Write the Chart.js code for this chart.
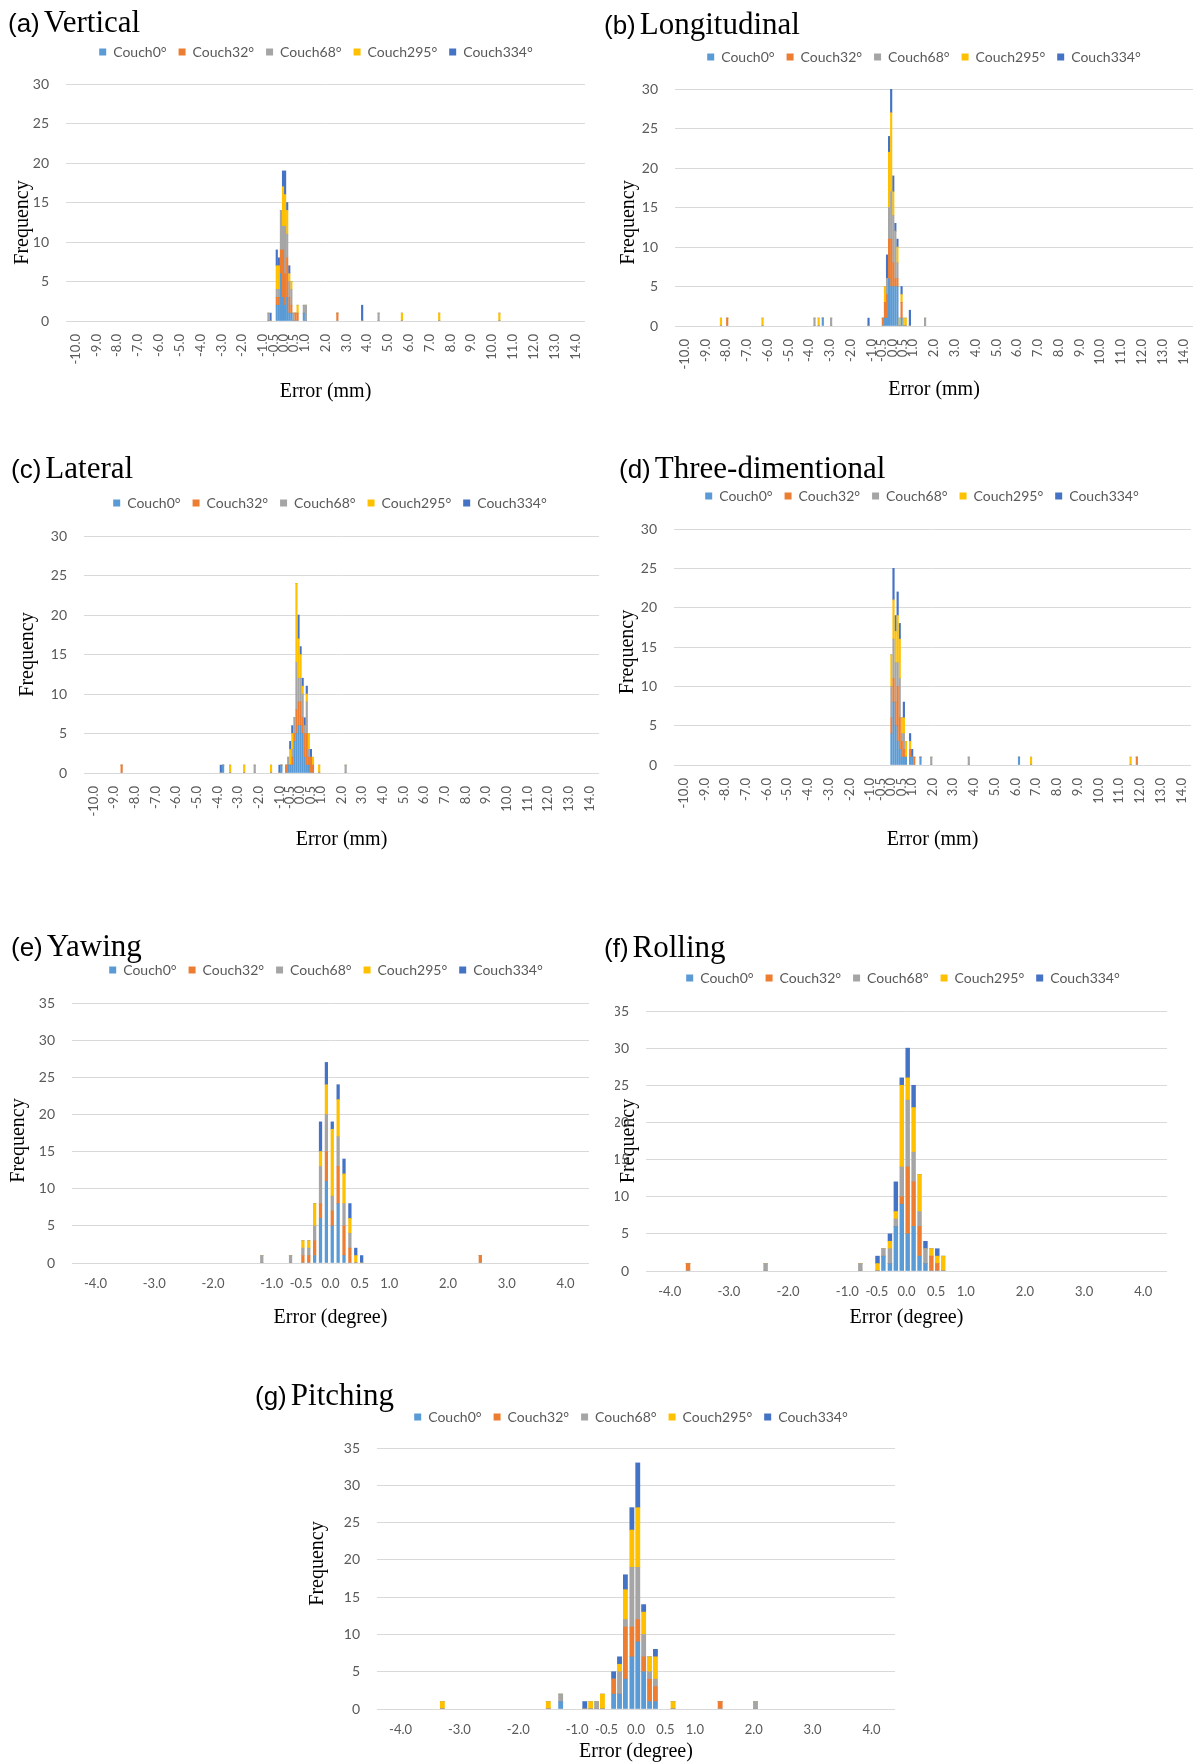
<!DOCTYPE html>
<html>
<head>
<meta charset="utf-8">
<script src="https://cdn.jsdelivr.net/npm/chart.js@4.4.0/dist/chart.umd.min.js"></script>
<style>
  html, body { margin: 0; padding: 0; background: #fff; }
  body { width: 1204px; height: 1763px; position: relative; overflow: hidden; }
  canvas { position: absolute; }
  .ptitle { position: absolute; white-space: nowrap; color: #000; z-index: 2; line-height: 1; }
  .ptitle .tag { font: 26px "Liberation Sans", Arial, sans-serif; }
  .ptitle .nm { font: 31px "Liberation Serif", "Times New Roman", serif; }
</style>
</head>
<body>
<script>
// series and tick labels
var seriesNames = ['Couch0°', 'Couch32°', 'Couch68°', 'Couch295°', 'Couch334°'];
var seriesColors = ['#5B9BD5', '#ED7D31', '#A5A5A5', '#FFC000', '#4472C4'];
var mmTicks = [-10, -9, -8, -7, -6, -5, -4, -3, -2, -1, -0.5, 0, 0.5, 1, 2, 3, 4, 5, 6, 7, 8, 9, 10, 11, 12, 13, 14];
var degTicks = [-4, -3, -2, -1, -0.5, 0, 0.5, 1, 2, 3, 4];

// (a) Vertical
var vertBins     = [-0.74, -0.64, -0.34, -0.24, -0.14, -0.04, 0.06, 0.16, 0.26, 0.36, 0.46, 0.56, 0.66, 0.96, 1.06, 2.57, 3.76, 4.55, 5.67, 7.46, 10.35];
var vertCouch0   = [0, 0, 2, 2, 6, 3, 2, 3, 1, 1, 0, 0, 0, 1, 0, 0, 0, 0, 0, 0, 0];
var vertCouch32  = [0, 0, 1, 1, 3, 6, 4, 5, 2, 1, 0, 1, 1, 0, 0, 1, 0, 0, 0, 0, 0];
var vertCouch68  = [1, 0, 1, 1, 5, 3, 6, 3, 2, 2, 1, 0, 0, 1, 2, 0, 0, 1, 0, 0, 0];
var vertCouch295 = [0, 0, 3, 3, 0, 5, 4, 3, 1, 1, 0, 0, 1, 0, 0, 0, 0, 0, 1, 1, 1];
var vertCouch334 = [0, 1, 2, 1, 0, 2, 3, 1, 1, 0, 0, 0, 0, 0, 0, 0, 2, 0, 0, 0, 0];

// (b) Longitudinal
var longBins     = [-8.25, -7.95, -6.25, -3.75, -3.55, -3.35, -2.95, -1.15, -0.46, -0.36, -0.26, -0.16, -0.06, 0.04, 0.14, 0.24, 0.34, 0.44, 0.54, 0.64, 0.84, 1.57];
var longCouch0   = [0, 0, 0, 0, 0, 1, 0, 0, 0, 1, 1, 6, 5, 5, 5, 5, 0, 1, 0, 0, 0, 0];
var longCouch32  = [0, 1, 0, 0, 0, 0, 0, 0, 1, 2, 3, 5, 6, 3, 1, 1, 0, 2, 0, 0, 0, 0];
var longCouch68  = [0, 0, 0, 1, 0, 0, 1, 0, 0, 0, 2, 4, 6, 6, 6, 2, 0, 0, 0, 0, 0, 1];
var longCouch295 = [1, 0, 1, 0, 1, 0, 0, 0, 0, 2, 0, 7, 10, 3, 0, 2, 1, 1, 1, 1, 0, 0];
var longCouch334 = [0, 0, 0, 0, 0, 0, 0, 1, 0, 0, 3, 2, 3, 2, 1, 1, 0, 1, 0, 0, 2, 0];

// (c) Lateral
var latBins      = [-8.64, -3.84, -3.73, -3.39, -2.71, -2.2, -1.41, -1.0, -0.91, -0.68, -0.58, -0.48, -0.38, -0.28, -0.18, -0.08, 0.02, 0.12, 0.22, 0.32, 0.42, 0.52, 0.62, 0.92, 2.2];
var latCouch0    = [0, 0, 1, 0, 0, 0, 0, 0, 1, 0, 1, 1, 1, 4, 5, 6, 6, 5, 2, 1, 1, 0, 0, 0, 0];
var latCouch32   = [1, 0, 0, 0, 0, 0, 0, 0, 0, 1, 0, 0, 1, 1, 3, 3, 3, 2, 3, 4, 1, 2, 1, 0, 0];
var latCouch68   = [0, 0, 0, 0, 0, 1, 0, 0, 0, 0, 1, 0, 1, 2, 6, 3, 3, 3, 1, 4, 1, 0, 0, 0, 1];
var latCouch295  = [0, 0, 0, 1, 1, 0, 1, 0, 0, 0, 0, 2, 2, 0, 10, 5, 3, 1, 0, 1, 2, 0, 1, 1, 0];
var latCouch334  = [0, 1, 0, 0, 0, 0, 0, 1, 0, 0, 0, 1, 1, 0, 0, 3, 1, 1, 1, 1, 0, 1, 0, 0, 0];

// (d) Three-dimentional
var threeBins     = [0.02, 0.12, 0.22, 0.32, 0.42, 0.52, 0.62, 0.72, 0.92, 1.02, 1.12, 1.42, 1.94, 3.75, 6.17, 6.75, 11.55, 11.85];
var threeCouch0   = [4, 8, 5, 3, 2, 1, 1, 1, 1, 1, 0, 1, 0, 0, 1, 0, 0, 0];
var threeCouch32  = [2, 3, 3, 7, 4, 2, 1, 0, 1, 0, 1, 0, 0, 0, 0, 0, 0, 1];
var threeCouch68  = [4, 5, 5, 3, 5, 1, 2, 0, 0, 0, 0, 0, 1, 1, 0, 0, 0, 0];
var threeCouch295 = [4, 5, 4, 6, 5, 2, 2, 2, 1, 0, 0, 0, 0, 0, 0, 1, 1, 0];
var threeCouch334 = [0, 4, 2, 3, 2, 0, 2, 0, 1, 1, 0, 0, 0, 0, 0, 0, 0, 0];

// (e) Yawing
var yawBins     = [-1.17, -0.68, -0.47, -0.37, -0.27, -0.17, -0.07, 0.03, 0.13, 0.23, 0.33, 0.43, 0.53, 2.55];
var yawCouch0   = [0, 0, 0, 0, 1, 6, 11, 5, 8, 1, 0, 0, 0, 0];
var yawCouch32  = [0, 0, 1, 1, 2, 2, 4, 2, 5, 4, 2, 0, 0, 1];
var yawCouch68  = [1, 1, 1, 1, 2, 5, 5, 2, 4, 3, 2, 0, 0, 0];
var yawCouch295 = [0, 0, 1, 1, 3, 2, 4, 9, 5, 4, 2, 1, 0, 0];
var yawCouch334 = [0, 0, 0, 0, 0, 4, 3, 1, 2, 2, 2, 1, 1, 0];

// (f) Rolling
var rollBins     = [-3.69, -2.38, -0.78, -0.49, -0.39, -0.28, -0.18, -0.08, 0.02, 0.12, 0.22, 0.32, 0.42, 0.52, 0.62];
var rollCouch0   = [0, 0, 0, 0, 2, 1, 6, 9, 5, 6, 2, 1, 0, 0, 0];
var rollCouch32  = [1, 0, 0, 0, 0, 0, 0, 1, 9, 6, 4, 0, 2, 1, 0];
var rollCouch68  = [0, 1, 1, 0, 1, 2, 1, 4, 9, 4, 2, 2, 0, 0, 0];
var rollCouch295 = [0, 0, 0, 1, 0, 1, 1, 11, 3, 6, 5, 0, 1, 1, 2];
var rollCouch334 = [0, 0, 0, 1, 0, 1, 4, 1, 4, 3, 0, 1, 0, 1, 0];

// (g) Pitching
var pitchBins     = [-3.29, -1.49, -1.28, -0.87, -0.77, -0.67, -0.57, -0.38, -0.28, -0.18, -0.07, 0.03, 0.13, 0.23, 0.33, 0.63, 1.43, 2.03];
var pitchCouch0   = [0, 0, 1, 0, 0, 0, 0, 2, 2, 4, 7, 9, 5, 1, 1, 0, 0, 0];
var pitchCouch32  = [0, 0, 0, 0, 0, 0, 0, 2, 0, 7, 4, 3, 2, 3, 2, 0, 1, 0];
var pitchCouch68  = [0, 0, 1, 0, 0, 1, 0, 0, 3, 1, 8, 7, 3, 1, 1, 0, 0, 1];
var pitchCouch295 = [1, 1, 0, 0, 1, 0, 2, 0, 1, 4, 5, 8, 3, 2, 3, 1, 0, 0];
var pitchCouch334 = [0, 0, 0, 1, 0, 0, 0, 1, 1, 2, 3, 6, 1, 0, 1, 0, 0, 0];

// panel layout (page pixels): plot box, axis title and legend anchors
var panels = [
  { tag: '(a)', name: 'Vertical', deg: false, bins: vertBins,
    counts: [vertCouch0, vertCouch32, vertCouch68, vertCouch295, vertCouch334],
    box: { l: 66, r: 585, t: 84, b: 321, freqX: 23, freqShift: 19, legY: 52, legX: 316, errY: 392, tx: 8, ty: 21 }, bar: 1.5 },
  { tag: '(b)', name: 'Longitudinal', deg: false, bins: longBins,
    counts: [longCouch0, longCouch32, longCouch68, longCouch295, longCouch334],
    box: { l: 675, r: 1193, t: 89, b: 326, freqX: 629, freqShift: 15, legY: 57, legX: 924, errY: 390, tx: 604, ty: 23 }, bar: 1.5 },
  { tag: '(c)', name: 'Lateral', deg: false, bins: latBins,
    counts: [latCouch0, latCouch32, latCouch68, latCouch295, latCouch334],
    box: { l: 84, r: 599, t: 536, b: 773, freqX: 28, freqShift: 0, legY: 503, legX: 330, errY: 840, tx: 11, ty: 467 }, bar: 1.5 },
  { tag: '(d)', name: 'Three-dimentional', deg: false, bins: threeBins,
    counts: [threeCouch0, threeCouch32, threeCouch68, threeCouch295, threeCouch334],
    box: { l: 674, r: 1191, t: 529, b: 765, freqX: 628, freqShift: 6, legY: 496, legX: 922, errY: 840, tx: 619, ty: 467 }, bar: 1.5 },
  { tag: '(e)', name: 'Yawing', deg: true, bins: yawBins,
    counts: [yawCouch0, yawCouch32, yawCouch68, yawCouch295, yawCouch334],
    box: { l: 72, r: 589, t: 1003, b: 1263, freqX: 19, freqShift: 7, legY: 970, legX: 326, errY: 1318, tx: 11, ty: 945 }, bar: 2.6 },
  { tag: '(f)', name: 'Rolling', deg: true, bins: rollBins,
    counts: [rollCouch0, rollCouch32, rollCouch68, rollCouch295, rollCouch334],
    box: { l: 646, r: 1167, t: 1011, b: 1271, freqX: 629, freqShift: 0, legY: 978, legX: 903, errY: 1318, tx: 604, ty: 946 }, bar: 3.8 },
  { tag: '(g)', name: 'Pitching', deg: true, bins: pitchBins,
    counts: [pitchCouch0, pitchCouch32, pitchCouch68, pitchCouch295, pitchCouch334],
    box: { l: 377, r: 895, t: 1448, b: 1709, freqX: 318, freqShift: -15, legY: 1417, legX: 631, errY: 1752, tx: 255, ty: 1394 }, bar: 4.2 }
];

var GRAY = '#595959';
var SANS = 'Lato, "Liberation Sans", sans-serif';
var SERIF = '"Liberation Serif", "Times New Roman", serif';
var LEG_PAD = 12, LEG_FONT = 14, RIGHT_PAD = 22;

// move the legend so its centre sits where the reference has it
var legendShift = {
  id: 'legendShift',
  afterLayout: function(chart, args, opts) {
    var lg = chart.legend;
    if (!lg || opts.centerX == null) return;
    var dx = opts.centerX - (lg.left + lg.right) / 2;
    lg.left += dx;
    lg.right += dx;
  }
};

// the rotated y title is centred on the plot; pad with spaces to nudge it along the axis
function freqLabel(shift) {
  var n = Math.round(Math.abs(shift) * 2 / 5);
  var pad = new Array(n + 1).join(' ');
  return shift >= 0 ? 'Frequency' + pad : pad + 'Frequency';
}

panels.forEach(function(p) {
  var b = p.box;

  var t = document.createElement('div');
  t.className = 'ptitle';
  t.style.left = b.tx + 'px';
  t.style.top = (b.ty - 17) + 'px';
  t.innerHTML = '<span class="tag">' + p.tag + '</span> <span class="nm">' + p.name + '</span>';
  document.body.appendChild(t);

  var cLeft = b.freqX - 14;
  var cTop = Math.round(b.legY - LEG_PAD - LEG_FONT / 2);
  var yW = b.l - cLeft;
  var xH = b.errY - b.b + 12;
  var spacer = (b.t - cTop) - (LEG_PAD + LEG_FONT + 10);
  var W = b.r - cLeft + RIGHT_PAD;
  var H = b.b - cTop + xH;

  var cv = document.createElement('canvas');
  cv.width = W; cv.height = H;
  cv.style.left = cLeft + 'px';
  cv.style.top = cTop + 'px';
  cv.style.width = W + 'px';
  cv.style.height = H + 'px';
  document.body.appendChild(cv);

  var ticks = p.deg ? degTicks : mmTicks;
  var datasets = seriesNames.map(function(name, i) {
    return {
      label: name,
      data: p.bins.map(function(x, j) { return { x: x, y: p.counts[i][j] }; }),
      backgroundColor: seriesColors[i],
      borderWidth: 0,
      barThickness: p.bar
    };
  });

  new Chart(cv.getContext('2d'), {
    type: 'bar',
    data: { datasets: datasets },
    plugins: [legendShift],
    options: {
      responsive: false,
      animation: false,
      layout: { padding: { left: 0, right: RIGHT_PAD, top: 0, bottom: 0 } },
      plugins: {
        tooltip: { enabled: false },
        legendShift: { centerX: b.legX - cLeft },
        legend: {
          position: 'top',
          labels: { boxWidth: 7, boxHeight: 7, padding: LEG_PAD, color: GRAY,
                    font: { family: SANS, size: LEG_FONT } }
        },
        // empty title used only as space between legend and plot
        title: { display: true, text: '', weight: 500, padding: 0,
                 font: { size: Math.max(spacer, 1), lineHeight: 1 } }
      },
      scales: {
        x: {
          type: 'linear',
          stacked: true,
          min: p.deg ? -4 : -10,
          max: p.deg ? 4 : 14,
          grid: { display: false, drawTicks: false },
          border: { display: false },
          afterBuildTicks: function(s) { s.ticks = ticks.map(function(v) { return { value: v }; }); },
          afterFit: function(s) { s.height = xH; s.paddingLeft = 0; s.paddingRight = 0; },
          ticks: {
            autoSkip: false,
            minRotation: p.deg ? 0 : 90,
            maxRotation: p.deg ? 0 : 90,
            padding: 13,
            color: GRAY,
            font: { family: SANS, size: 13 },
            callback: function(v) { return Number(v).toFixed(1); }
          },
          title: { display: true, text: p.deg ? 'Error (degree)' : 'Error (mm)', color: '#000',
                   padding: { top: 0, bottom: 0 }, font: { family: SERIF, size: 20 } }
        },
        y: {
          stacked: true,
          min: 0,
          max: p.deg ? 35 : 30,
          grid: { color: '#D9D9D9', drawTicks: false },
          border: { display: false },
          afterFit: function(s) { s.width = yW; },
          ticks: { stepSize: 5, padding: 17, color: GRAY, font: { family: SANS, size: 14 } },
          title: { display: true, text: freqLabel(b.freqShift), color: '#000',
                   padding: { top: 2, bottom: 0 }, font: { family: SERIF, size: 20 } }
        }
      }
    }
  });
});
</script>
</body>
</html>
